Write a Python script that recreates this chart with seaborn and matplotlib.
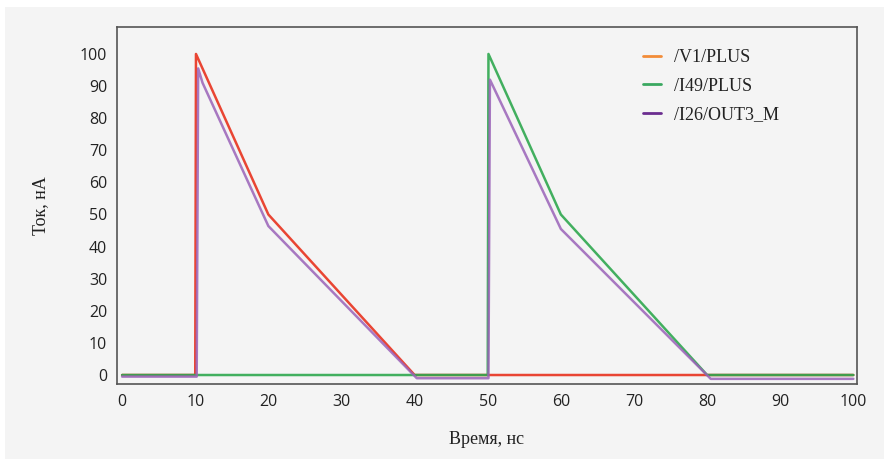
import matplotlib
matplotlib.use("Agg")
import matplotlib.pyplot as plt
from matplotlib.lines import Line2D
from matplotlib.patches import Rectangle
import numpy as np
import pandas as pd
import seaborn as sns

# ---- data ----
v1_t = [0, 10, 10.1, 20, 40, 50, 80, 100]
v1_i = [0, 0, 100, 50, 0, 0, 0, 0]

i49_t = [0, 10, 50, 50.1, 60, 80, 100]
i49_i = [0, 0, 0, 100, 50, 0, 0]

i26_t = [0, 10.2, 10.4, 11, 20, 40.3, 50.1, 50.3, 60, 80.5, 100]
i26_i = [-0.5, -0.5, 95.5, 91, 46.4, -1, -1, 92, 45.5, -1.2, -1.2]

series_names = ["/V1/PLUS", "/I49/PLUS", "/I26/OUT3_M"]
line_colors = ["#e8321e", "#2fa84f", "#9a62b8"]
legend_colors = ["#f28c38", "#3aa860", "#6b2d8f"]
x_ticks = [0, 10, 20, 30, 40, 50, 60, 70, 80, 90, 100]
y_ticks = [0, 10, 20, 30, 40, 50, 60, 70, 80, 90, 100]
x_label = "Время, нс"
y_label = "Ток, нА"

frames = []
for name, t, i in zip(series_names, [v1_t, i49_t, i26_t], [v1_i, i49_i, i26_i]):
    frames.append(pd.DataFrame({"t": t, "i": i, "s": name}))
df = pd.concat(frames, ignore_index=True)

sns.set_style("white")
plt.rcParams["font.family"] = ["DejaVu Sans"]

W, H = 884, 459
fig = plt.figure(figsize=(W / 100, H / 100), dpi=100, facecolor="white")
fig.patches.append(Rectangle((5 / W, 0), 1 - 5 / W, 1 - 7 / H, transform=fig.transFigure,
                             facecolor="#f4f4f4", edgecolor="none", zorder=-10))

ax = fig.add_axes([117 / W, 1 - 384 / H, (857 - 117) / W, (384 - 27) / H])
ax.set_facecolor("#f4f4f4")

pal = dict(zip(series_names, line_colors))
for name in series_names:
    sub = df[df["s"] == name]
    sns.lineplot(data=sub, x="t", y="i", color=pal[name], ax=ax, linewidth=1.8,
                 alpha=0.9 if name != "/I26/OUT3_M" else 0.85, sort=False,
                 estimator=None, legend=False)

ax.set_xlim(-0.7, 100.5)
ax.set_ylim(-2.8, 108.4)
ax.set_xticks(x_ticks)
ax.set_yticks(y_ticks)
ax.tick_params(direction="in", length=6, width=1, colors="#222222", labelsize=11.5,
               labelcolor="#222222", pad=7)
for lbl in ax.get_xticklabels() + ax.get_yticklabels():
    lbl.set_fontfamily("Open Sans")
for sp in ax.spines.values():
    sp.set_color("#555555")
    sp.set_linewidth(1.2)

ax.set_xlabel(x_label, fontfamily="Liberation Serif", fontsize=13, color="#222222", labelpad=15)
ax.set_ylabel(y_label, fontfamily="Liberation Serif", fontsize=13, color="#222222", labelpad=22)

handles = [Line2D([], [], color=c, linewidth=2) for c in legend_colors]
leg = ax.legend(handles, series_names, loc="upper left", bbox_to_anchor=(0.711, 0.937),
                borderpad=0, borderaxespad=0,
                frameon=False, handlelength=1.0, handletextpad=0.7, labelspacing=0.62,
                prop={"family": "Liberation Serif", "size": 13})
for t in leg.get_texts():
    t.set_color("#222222")

fig.savefig("out.png", dpi=100, facecolor=fig.get_facecolor())
